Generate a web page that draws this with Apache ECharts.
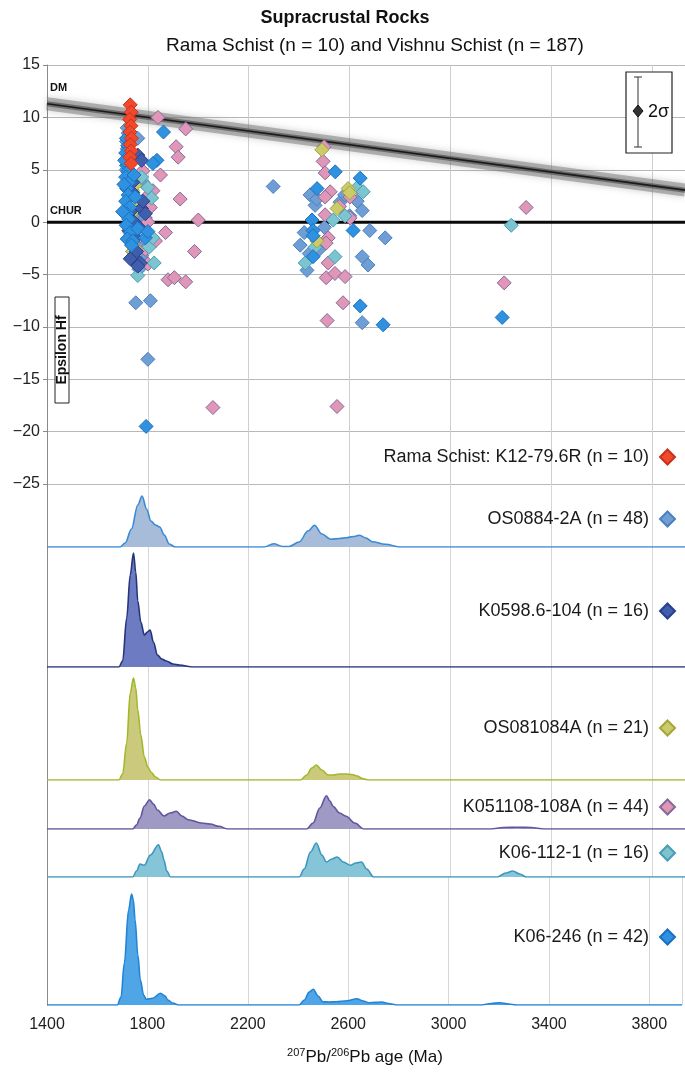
<!DOCTYPE html>
<html><head><meta charset="utf-8">
<script src="https://cdn.jsdelivr.net/npm/echarts@6/dist/echarts.min.js"></script>
<style>html,body{margin:0;padding:0;background:#fff}#c{width:685px;height:1072px}</style>
</head><body><div id="c"></div>
<script>
// ---------- DATA ----------
const xTicks = [1400, 1800, 2200, 2600, 3000, 3400, 3800];
const yTicks = [15, 10, 5, 0, -5, -10, -15, -20, -25];
const sampleNames = [
  'Rama Schist: K12-79.6R (n = 10)',
  'OS0884-2A (n = 48)',
  'K0598.6-104 (n = 16)',
  'OS081084A (n = 21)',
  'K051108-108A (n = 44)',
  'K06-112-1 (n = 16)',
  'K06-246 (n = 42)'
];
// epsilon Hf vs age (Ma)
const ramaK12 = [[1730,11.2],[1734,10.5],[1728,9.8],[1733,9.2],[1729,8.6],[1735,8.0],[1730,7.4],[1734,6.8],[1729,6.2],[1733,5.6]];
const os0884 = [[1718,9.0],[1722,8.5],[1715,7.7],[1760,8.0],[1718,7.0],[1725,6.3],[1715,5.0],[1722,4.5],[1730,4.0],[1718,3.3],[1735,3.1],[1760,2.0],[1780,3.8],[1745,1.2],[1770,0.5],[1790,0.4],[1727,-0.9],[1760,-2.2],[1775,-3.2],[1745,-3.6],[1765,-4.5],[1752,-7.7],[1810,-7.5],[1800,-13.1],[1795,-1.0],[1740,-2.8],[1725,1.8],[1780,1.3],
  [2297,3.4],[2443,2.6],[2463,1.6],[2562,1.9],[2650,1.1],[2741,-1.5],[2404,-2.2],[2431,-4.6],[2650,-3.3],[2673,-4.1],[2650,-9.6],[2470,2.2],[2480,-2.6],[2440,-3.0],[2600,0.6],[2630,2.0],[2420,-1.0],[2500,-0.5],[2680,-0.8],[2580,2.6]];
const k0598 = [[1760,6.4],[1775,5.9],[1735,1.1],[1775,1.3],[1745,0.0],[1765,-0.5],[1770,-3.9],[1760,-4.2],[1740,2.8],[1725,-0.8],[1750,-1.5],[1780,2.0],[1740,3.8],[1755,-2.8],[1730,-3.5],[1790,0.8]];
const os081084 = [[1740,3.0],[1745,2.5],[1752,1.9],[1730,0.5],[1735,-0.5],[1737,-2.0],[1750,-2.5],[1728,-1.8],[1742,1.0],[1733,-1.2],[1748,3.5],[1725,2.2],[1738,4.2],[1744,-0.2],[1732,1.5],[1740,-2.8],[2490,6.9],[2594,3.2],[2550,1.3],[2470,-1.8],[2600,2.8]];
const k051108 = [[1840,10.0],[1950,8.9],[1912,7.2],[1920,6.2],[1928,2.2],[2000,0.2],[1985,-2.8],[1880,-5.5],[1905,-5.3],[1950,-5.7],[2058,-17.7],[1780,4.9],[1795,2.4],[1810,1.4],[1800,0.0],[1770,-1.3],[1790,-2.6],[1755,-0.5],[1830,-1.8],[1820,3.0],[1850,4.5],[1800,-4.0],[1870,-1.0],
  [2499,7.2],[2495,5.8],[2503,4.7],[2523,2.9],[2503,2.4],[2602,2.4],[2503,0.7],[2602,0.4],[2515,-1.5],[2507,-2.0],[2515,-3.9],[2507,-5.3],[2542,-4.9],[2582,-5.2],[2574,-7.7],[2511,-9.4],[2550,-17.6],[2560,1.5],[3300,1.4],[3213,-5.8]];
const k06112 = [[1775,4.3],[1800,3.3],[1815,2.3],[1790,-1.2],[1805,-2.4],[1825,-3.9],[1760,-5.1],[1820,-1.5],[2630,3.3],[2654,2.9],[2582,0.6],[2535,0.2],[2463,-2.4],[2542,-3.3],[2424,-3.9],[3241,-0.3]];
const k06246 = [[1715,8.0],[1720,7.3],[1712,6.6],[1722,6.0],[1715,5.4],[1720,4.8],[1712,4.3],[1725,3.8],[1716,3.2],[1722,2.6],[1712,2.0],[1728,1.4],[1716,0.8],[1724,0.3],[1714,-0.3],[1730,-1.0],[1718,-1.6],[1760,-0.6],[1740,-1.8],[1790,-1.5],[1862,8.6],[1836,5.9],[1820,5.6],[1800,-0.9],[1745,4.5],[1750,2.4],[1735,-2.2],[1700,1.0],[1705,3.6],[1708,5.9],[1793,-19.5],
  [2642,4.2],[2543,4.8],[2471,3.2],[2451,0.2],[2614,-0.8],[2455,-0.8],[2455,-1.3],[2455,-3.3],[2642,-8.0],[2733,-9.8],[3205,-9.1]];
// reference lines
const dmLine = [[1400,11.3],[3930,3.05]];
const churLine = [[1400,0],[3930,0]];
// probability density (relative height) vs age
const pdOS0884 = [[1400,0],[1690,0],[1710,4],[1735,18],[1760,42],[1777,51],[1795,38],[1812,26],[1830,22],[1847,20],[1865,12],[1885,3],[1908,0],[2260,0],[2299,3.3],[2335,0.5],[2360,0.5],[2400,5],[2435,16],[2461,21.7],[2490,13],[2525,7.7],[2560,8.5],[2586,9.3],[2615,10.5],[2638,11.7],[2665,9],[2690,5.3],[2742,2.7],[2803,0],[3930,0]];
const pdK0598 = [[1400,0],[1685,0],[1700,6],[1716,49],[1730,92],[1743,114],[1752,95],[1760,66],[1772,45],[1786,32],[1798,35],[1809,37],[1822,25],[1838,12],[1855,8],[1873,6],[1900,3],[1925,2],[1977,0],[3930,0]];
const pdOS081084 = [[1400,0],[1685,0],[1700,6],[1716,37],[1730,87],[1743,102],[1752,92],[1760,70],[1772,45],[1786,23],[1800,13],[1812,8],[1830,3],[1850,0],[2405,0],[2430,5],[2450,12],[2468,15],[2490,10],[2515,5],[2534,5],[2560,6],[2586,6],[2610,5.5],[2630,4],[2650,1.5],[2675,0],[3930,0]];
const pdK051108 = [[1400,0],[1740,0],[1755,4],[1769,11],[1786,23],[1807,29.3],[1822,25],[1838,19],[1864,13],[1888,16],[1913,17.7],[1935,13],[1960,9.3],[2012,6],[2047,5],[2082,2.7],[2116,0],[2430,0],[2455,6],[2482,21],[2508,33.3],[2522,28],[2534,22.7],[2560,16],[2586,12.7],[2621,6],[2656,0],[3160,0],[3210,1.5],[3264,1.7],[3320,1.5],[3370,0],[3930,0]];
const pdK06112 = [[1400,0],[1740,0],[1755,6],[1769,13],[1786,11.7],[1810,22],[1842,32.3],[1855,25],[1864,16.7],[1875,6],[1890,0],[2400,0],[2420,8],[2445,25],[2468,34],[2490,22],[2508,15],[2530,18],[2551,20],[2575,15],[2603,11.7],[2625,14],[2647,15],[2668,8],[2695,0],[3185,0],[3220,4],[3247,6],[3275,3],[3300,0],[3930,0]];
const pdK06246 = [[1400,0],[1680,0],[1695,8],[1708,41.7],[1725,95],[1737,111],[1744,105],[1751,85],[1762,50],[1772,25],[1785,10],[1795,5.7],[1821,6.7],[1852,11.7],[1870,9],[1882,5],[1900,2],[1925,0],[2405,0],[2425,5],[2445,13],[2461,15.7],[2480,9],[2499,3.3],[2525,3],[2551,3.3],[2595,4.3],[2635,6.3],[2660,4],[2682,2.3],[2710,2.6],[2734,3],[2760,1.5],[2795,0],[3130,0],[3170,1.5],[3203,2.3],[3240,1],[3270,0],[3930,0]];

// ---------- STYLE ----------
const FONT = 'Liberation Sans, Arial, sans-serif';
const X_MIN = 1400, X_MAX = 3930;
const scatterStyles = {
  red:   {c:'#f1492c', b:'#c8321c'},
  steel: {c:'#6e9ed3', b:'#4c80c0'},
  dark:  {c:'#3f5eac', b:'#283f8c'},
  olive: {c:'#cccb6c', b:'#a4a63a'},
  pink:  {c:'#e096b6', b:'#85699c'},
  teal:  {c:'#7cc4d0', b:'#4a9db4'},
  blue:  {c:'#2f92e0', b:'#1d6fbf'}
};
// ridge panels: top, height (px), fill, line
const panels = [
  {top:484, h:63,  data:pdOS0884,   fill:'#a6bcd8', line:'#3a8ad8'},
  {top:547, h:120, data:pdK0598,    fill:'#6d7bc2', line:'#25357a'},
  {top:667, h:113, data:pdOS081084, fill:'#cac97c', line:'#a2b82a'},
  {top:780, h:49,  data:pdK051108,  fill:'#9f9ac4', line:'#62549e'},
  {top:829, h:48,  data:pdK06112,   fill:'#86c5d8', line:'#3c97be'},
  {top:877, h:128, data:pdK06246,   fill:'#4fa5e6', line:'#2384d6'}
];

const grids = [{left:47, right:0, top:65, height:419}];
const xAxes = [{
  gridIndex:0, type:'value', min:X_MIN, max:X_MAX, interval:400,
  axisLine:{show:false}, axisTick:{show:false}, axisLabel:{show:false},
  splitLine:{show:true, lineStyle:{color:'#cfcfcf', width:1}}
}];
const yAxes = [{
  gridIndex:0, type:'value', min:-25, max:15, interval:5,
  axisLine:{show:true, lineStyle:{color:'#8a8a8a', width:1}},
  axisTick:{show:true, length:4, lineStyle:{color:'#8a8a8a'}},
  axisLabel:{fontSize:16, color:'#222', fontFamily:FONT, margin:7,
    formatter:v => String(v).replace('-', '\u2212')},
  splitLine:{show:true, lineStyle:{color:'#b8b8b8', width:1}}
}];
panels.forEach((p, i) => {
  const last = i === panels.length - 1;
  grids.push({left:47, right:0, top:p.top, height:p.h});
  xAxes.push({
    gridIndex:i+1, type:'value', min:X_MIN, max:X_MAX, interval:400,
    axisLine:{show:false}, axisTick:{show:false},
    axisLabel:{show:last, fontSize:16, color:'#222', fontFamily:FONT, margin:12,
      formatter:v => ((v - 1400) % 400 === 0 ? String(v) : '')},
    splitLine:{show:true, lineStyle:{color:'#d6d6d6', width:1}}
  });
  yAxes.push({
    gridIndex:i+1, type:'value', min:0, max:p.h,
    axisLine:{show:true, lineStyle:{color:'#8a8a8a', width:1}},
    axisTick:{show:false}, axisLabel:{show:false}, splitLine:{show:false}
  });
});

function scat(name, data, st, z) {
  return {name, type:'scatter', xAxisIndex:0, yAxisIndex:0, data, z:z,
    symbol:'diamond', symbolSize:14,
    itemStyle:{color:st.c, borderColor:st.b, borderWidth:1, opacity:1}};
}
const series = [
  {type:'line', xAxisIndex:0, yAxisIndex:0, data:dmLine, symbol:'none', z:1, silent:true,
    lineStyle:{color:'rgba(120,120,120,0.5)', width:13, shadowBlur:7, shadowColor:'rgba(100,100,100,0.6)'}},
  {type:'line', xAxisIndex:0, yAxisIndex:0, data:dmLine, symbol:'none', z:1, silent:true,
    lineStyle:{color:'rgba(70,70,70,0.6)', width:5}},
  {type:'line', xAxisIndex:0, yAxisIndex:0, data:dmLine, symbol:'none', z:2, silent:true,
    lineStyle:{color:'#1a1a1a', width:1.6}},
  {type:'line', xAxisIndex:0, yAxisIndex:0, data:churLine, symbol:'none', z:2, silent:true,
    lineStyle:{color:'#0a0a0a', width:3}},
  scat(sampleNames[1], os0884, scatterStyles.steel, 3),
  scat(sampleNames[4], k051108, scatterStyles.pink, 4),
  scat(sampleNames[5], k06112, scatterStyles.teal, 5),
  scat(sampleNames[3], os081084, scatterStyles.olive, 6),
  scat(sampleNames[2], k0598, scatterStyles.dark, 7),
  scat(sampleNames[6], k06246, scatterStyles.blue, 8),
  scat(sampleNames[0], ramaK12, scatterStyles.red, 9)
];
panels.forEach((p, i) => {
  series.push({type:'line', xAxisIndex:i+1, yAxisIndex:i+1, data:p.data, symbol:'none',
    smooth:0.35, smoothMonotone:'x', silent:true,
    lineStyle:{color:p.line, width:1.6}, areaStyle:{color:p.fill, opacity:1}});
});

// legend entries (centre y)
const legendY = [457, 519, 611, 728, 807, 853, 937];
const legends = sampleNames.map((n, i) => ({
  data:[n], right:9, top:legendY[i] - 9, orient:'horizontal', align:'right',
  padding:0, itemWidth:15, itemHeight:15, selectedMode:false,
  textStyle:{fontSize:18, color:'#1a1a1a', fontFamily:FONT, padding:[0,6,0,0]}
}));

const chart = echarts.init(document.getElementById('c'), null, {renderer:'canvas'});
chart.setOption({
  animation:false,
  backgroundColor:'#fff',
  grid:grids, xAxis:xAxes, yAxis:yAxes, series, legend:legends,
  graphic:[
    {type:'text', x:345, y:18, style:{text:'Supracrustal Rocks', font:'bold 18px ' + FONT, fill:'#111', textAlign:'center', textVerticalAlign:'middle'}},
    {type:'text', x:375, y:46, style:{text:'Rama Schist (n = 10) and Vishnu Schist (n = 187)', font:'19px ' + FONT, fill:'#111', textAlign:'center', textVerticalAlign:'middle'}},
    {type:'text', x:50, y:88, z:20, style:{text:'DM', font:'bold 11px ' + FONT, fill:'#111', textVerticalAlign:'middle'}},
    {type:'text', x:50, y:211, z:20, style:{text:'CHUR', font:'bold 11px ' + FONT, fill:'#111', textVerticalAlign:'middle'}},
    {type:'rect', z:20, shape:{x:55, y:297, width:14, height:106}, style:{fill:'#fff', stroke:'#222', lineWidth:1}},
    {type:'text', x:62, y:350, z:21, rotation:Math.PI/2, style:{text:'Epsilon Hf', font:'bold 14px ' + FONT, fill:'#111', textAlign:'center', textVerticalAlign:'middle'}},
    {type:'rect', z:20, shape:{x:626, y:72, width:46, height:81}, style:{fill:'#fff', stroke:'#222', lineWidth:1.2}},
    {type:'line', z:21, shape:{x1:638, y1:77, x2:638, y2:147}, style:{stroke:'#333', lineWidth:1}},
    {type:'line', z:21, shape:{x1:634, y1:77, x2:642, y2:77}, style:{stroke:'#333', lineWidth:1}},
    {type:'line', z:21, shape:{x1:634, y1:147, x2:642, y2:147}, style:{stroke:'#333', lineWidth:1}},
    {type:'polygon', z:22, shape:{points:[[638,105],[643,111],[638,117],[633,111]]}, style:{fill:'#333', stroke:'#111'}},
    {type:'text', x:648, y:112, z:22, style:{text:'2\u03c3', font:'18px ' + FONT, fill:'#111', textVerticalAlign:'middle'}},
    {type:'text', x:365, y:1057, style:{
      text:'{s|207}{n|Pb/}{s|206}{n|Pb age (Ma)}',
      rich:{s:{fontSize:11, fontFamily:FONT, fill:'#111', verticalAlign:'top', padding:[0,0,8,0]}, n:{fontSize:17, fontFamily:FONT, fill:'#111'}},
      textAlign:'center', textVerticalAlign:'middle'}}
  ]
});
</script></body></html>
